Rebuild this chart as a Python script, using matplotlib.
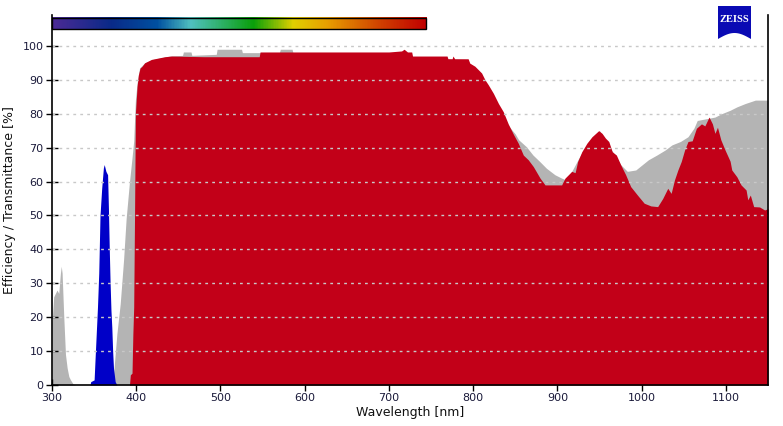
import numpy as np
import matplotlib.pyplot as plt
from matplotlib.colors import LinearSegmentedColormap
from matplotlib.patches import Rectangle, Polygon

### Values (wavelength in nm, value in %)
gray_nm = [300, 302, 304, 306, 308, 310, 311, 312, 314, 316, 318, 320, 322, 325, 328,
           372, 374, 377, 381, 385, 388, 392, 395, 397, 399, 401, 404, 410, 420, 440,
           455, 456, 465, 466, 495, 496, 525, 526, 570, 571, 585, 586, 790, 800, 810,
           820, 830, 840, 850, 854, 863, 871, 879, 887, 897, 905, 910, 917, 930, 950,
           965, 975, 983, 993, 1001, 1008, 1018, 1028, 1036, 1046, 1055, 1062, 1066,
           1087, 1095, 1105, 1113, 1123, 1135, 1150]
gray_val = [18, 26, 27, 28, 27, 33, 35, 33, 20, 9, 5, 2.5, 1.5, 0.3, 0,
            0, 6, 15, 24, 37, 49, 60, 67, 72, 84, 89, 93.5, 95, 96, 97,
            97.2, 98.2, 98.2, 97.2, 97.5, 99, 99, 98, 98, 99, 99, 98, 96, 94, 91,
            87, 82, 77, 74, 72.3, 70.3, 67.8, 65.9, 63.9, 62, 61, 60.5, 63, 69, 75,
            69, 65, 63, 63.4, 65, 66.4, 67.8, 69.3, 70.8, 71.8, 73.2, 75.7, 78,
            79, 80, 81, 82, 83, 84, 84]

blue_nm = [345, 346, 350, 351, 354, 355.5, 357, 359, 361, 362, 364, 366, 367, 368,
           369, 370, 371, 372, 373, 375, 377]
blue_val = [0, 1, 1.5, 7, 23, 33, 50, 58, 64, 65, 63, 62, 52, 40,
            30, 22, 17, 10, 5, 1, 0]

red_nm = [392, 393, 395, 396, 397, 398, 399, 401, 402.5, 404.5, 407, 410, 418, 434,
          442, 480, 546, 547, 600, 650, 700, 715, 718, 722, 727, 728, 769, 770, 775,
          776, 778, 794, 796, 802, 806, 810, 814, 818, 824, 830, 835.7, 841.6, 847.6,
          853.5, 859.5, 865.4, 871.4, 879.4, 885.3, 905, 909, 917, 921, 924, 929, 935,
          941, 949, 953, 957, 961, 965, 970, 975, 981, 987, 995, 1003, 1011, 1019,
          1025, 1031, 1035, 1039, 1043, 1047, 1051, 1055, 1060, 1065, 1071, 1075,
          1080, 1084, 1087, 1090, 1094, 1099, 1105, 1107, 1113, 1118, 1124, 1126,
          1129, 1133, 1140, 1146, 1150]
red_val = [0, 3, 3.5, 15, 23, 50, 80, 88, 91.4, 93.4, 94, 95, 96, 96.8,
           97, 96.8, 96.8, 98.2, 98.2, 98.2, 98.2, 98.5, 99, 98.2, 98.2, 97, 97, 96.2, 96.2,
           97, 96.2, 96.2, 94.9, 94, 93, 92, 90, 88.5, 86, 83, 80.6, 77, 74,
           71.3, 67.8, 66.4, 64.4, 61, 59, 59, 61, 63, 62.6, 65.9, 68.8, 71.3,
           73.2, 75, 74.2, 72.8, 71.8, 68.8, 67.8, 65, 62, 58.5, 56, 53.6, 52.8, 52.6,
           55, 58, 56.5, 60.5, 63.4, 65.9, 69.3, 71.8, 72, 75.7, 77, 76.4,
           79, 77, 74.2, 76, 72.3, 69.3, 66, 63.4, 61.4, 59, 57.5, 54.6,
           56, 52.6, 52.5, 51.6, 52]

### Visible spectrum bar colours (wavelength, colour)
spec_nm = [300, 369, 424, 464, 539, 586, 626, 690, 744]
spec_col = ['#4b2a96', '#0a2a88', '#0050a0', '#50c0c0', '#0aa00a', '#e0d000',
            '#e8a000', '#d04000', '#c00000']

yticks = list(range(0, 101, 10))
xticks = list(range(300, 1101, 100))

fig = plt.figure(figsize=(7.83, 4.26), dpi=100)
ax = fig.add_axes([52/783, 41/426, 716/783, 370/426])

ax.fill_between(gray_nm, gray_val, color='#b4b4b4', lw=0, zorder=1)
ax.fill_between(blue_nm, blue_val, color='#0000c8', lw=0, zorder=2)
ax.fill_between(red_nm, red_val, color='#c20018', lw=0, zorder=3)

for yv in yticks[1:]:
    ax.axhline(yv, color='#c8c8c8', lw=1, ls=(0, (2, 3)), zorder=4)

ax.set_xticks(xticks)
ax.set_yticks(yticks)

### spectrum bar
pos = [(v - spec_nm[0]) / (spec_nm[-1] - spec_nm[0]) for v in spec_nm]
cmap = LinearSegmentedColormap.from_list('spec', list(zip(pos, spec_col)))
grad = np.linspace(0, 1, 400).reshape(1, -1)
ax.imshow(grad, cmap=cmap, aspect='auto', extent=[300, 744, 105.0, 108.3],
          zorder=5, clip_on=False)
ax.add_patch(Rectangle((300, 105.0), 444, 3.3, fill=False, ec='black', lw=1,
                       zorder=6, clip_on=False))
ax.set_xlim(300, 1150)
ax.set_ylim(0, 109.1)

for s in ['left', 'right', 'bottom']:
    ax.spines[s].set_linewidth(1.2)
    ax.spines[s].set_zorder(7)
ax.spines['top'].set_visible(False)
ax.tick_params(direction='inout', length=8, width=1, labelsize=8,
               labelcolor='#1a1a3a', pad=2)
ax.set_xlabel('Wavelength [nm]', fontsize=9, color='#111111', labelpad=2)
ax.set_ylabel('Efficiency / Transmittance [%]', fontsize=9, color='#111111', labelpad=5)

### ZEISS logo
x0, x1, y0, y1 = 718/783, 751/783, 1 - 39/426, 1 - 6/426
t = np.linspace(0, 1, 30)
arc_x = x1 - (x1 - x0) * t
arc_y = y0 + (6/426) * np.sin(np.pi * t)
logo = Polygon(np.column_stack([np.r_[x0, x1, arc_x], np.r_[y1, y1, arc_y]]),
               closed=True, transform=fig.transFigure, color='#0a0ab4', lw=0)
fig.patches.append(logo)
fig.text((x0 + x1) / 2, 1 - 19/426, 'ZEISS', color='white', fontsize=7.5,
         fontweight='bold', family='Liberation Serif', ha='center', va='center')

fig.savefig('out.png', dpi=100)
